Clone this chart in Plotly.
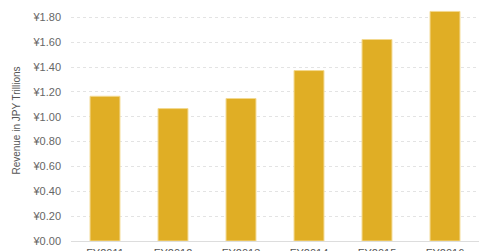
import plotly.graph_objects as go

categories = ["FY2011", "FY2012", "FY2013", "FY2014", "FY2015", "FY2016"]
revenue = [1.165, 1.066, 1.147, 1.372, 1.622, 1.848]

fig = go.Figure()
fig.add_trace(go.Bar(
    x=categories, y=revenue,
    marker=dict(color="#E0AE25", line=dict(color="#F3D98F", width=1)),
    width=0.44,
))
fig.update_layout(
    width=480, height=251,
    margin=dict(l=71, r=1, t=0, b=10),
    paper_bgcolor="white", plot_bgcolor="white",
    font=dict(family="Liberation Sans, Arial, sans-serif", size=11, color="#666666"),
    showlegend=False,
    bargap=0.56,
)
fig.update_yaxes(
    range=[0, 1.94], dtick=0.2, tick0=0,
    tickprefix="¥", tickformat=".2f",
    showgrid=True, gridcolor="#E3E3E3", griddash="3px,3px", gridwidth=1,
    zeroline=False, showline=False, automargin=False,
    ticks="", ticklabelstandoff=9,
    title=dict(text="Revenue in JPY Trillions", font=dict(size=10, color="#555555"), standoff=9),
)
fig.update_xaxes(
    showgrid=False, showline=True, linecolor="#DDDDDD", linewidth=1,
    ticks="", tickfont=dict(size=11, color="#555555"), automargin=False,
    ticklabelstandoff=2,
)
fig.write_html("out.html")
